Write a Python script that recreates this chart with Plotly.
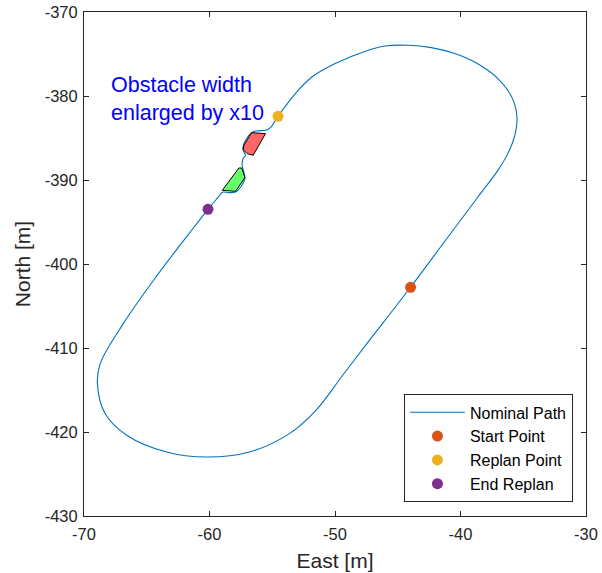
import plotly.graph_objects as go

# Nominal path (East, North)
path_east = [-43.98, -41.25, -38.61, -37.02, -36.23, -35.67, -35.49, -35.70, -36.23, -37.02,
             -37.82, -39.14, -40.46, -42.32, -44.17, -46.02, -47.34, -49.98, -51.84, -53.16,
             -54.54, -55.14, -55.54, -56.33, -56.73, -57.13, -57.34, -57.26, -57.13, -57.32,
             -57.40, -57.26, -57.18, -57.52, -57.92, -58.45, -58.98, -59.25, -60.12, -61.63,
             -64.27, -66.87, -68.71, -68.93, -68.32, -66.60, -63.43, -60.25, -56.81,
             -53.63, -51.52, -49.40, -47.60, -43.98]
path_north = [-402.77, -397.29, -392.02, -388.85, -386.86, -384.68, -382.69, -380.90, -379.32, -377.93,
              -376.94, -375.75, -374.95, -374.24, -373.96, -374.05, -374.56, -376.14, -377.74, -379.71,
              -382.42, -383.76, -384.08, -384.17, -384.48, -385.27, -386.14, -386.67, -387.06, -387.45,
              -388.25, -389.05, -389.83, -390.83, -391.43, -391.50, -391.46, -391.94, -393.49, -396.38,
              -401.55, -407.10, -411.86, -414.24, -417.81, -420.39, -422.38, -422.98, -422.38,
              -420.19, -417.42, -413.27, -409.75, -402.77]

# Obstacles (enlarged)
red_east = [-56.65, -55.54, -56.52, -57.00, -57.32, -57.26, -56.65]
red_north = [-384.36, -384.48, -387.06, -386.86, -386.38, -385.87, -384.36]
green_east = [-58.98, -57.92, -57.18, -57.44, -57.66, -58.98]
green_north = [-391.23, -391.35, -389.71, -388.57, -388.57, -391.23]

# Special points
start_pt = (-43.98, -402.77)
replan_pt = (-54.54, -382.42)
end_pt = (-60.12, -393.49)

x_ticks = [-70, -60, -50, -40, -30]
y_ticks = [-430, -420, -410, -400, -390, -380, -370]

FONT = "Liberation Sans, Arial, Helvetica, sans-serif"
AX = "#262626"

fig = go.Figure()
fig.add_trace(go.Scatter(x=path_east, y=path_north, mode="lines", name="Nominal Path",
                         line=dict(color="#0072BD", width=1.1, shape="spline", smoothing=1.0)))
fig.add_trace(go.Scatter(x=red_east, y=red_north, mode="lines", fill="toself",
                         fillcolor="rgba(255,0,0,0.6)", line=dict(color="black", width=1),
                         showlegend=False, hoverinfo="skip"))
fig.add_trace(go.Scatter(x=green_east, y=green_north, mode="lines", fill="toself",
                         fillcolor="rgba(0,255,0,0.6)", line=dict(color="black", width=1),
                         showlegend=False, hoverinfo="skip"))
fig.add_trace(go.Scatter(x=[start_pt[0]], y=[start_pt[1]], mode="markers", name="Start Point",
                         marker=dict(color="#D95319", size=11)))
fig.add_trace(go.Scatter(x=[replan_pt[0]], y=[replan_pt[1]], mode="markers", name="Replan Point",
                         marker=dict(color="#EDB120", size=11)))
fig.add_trace(go.Scatter(x=[end_pt[0]], y=[end_pt[1]], mode="markers", name="End Replan",
                         marker=dict(color="#7E2F8E", size=11)))

fig.add_annotation(x=-68.0, y=-380.3, xref="x", yref="y", xanchor="left", yanchor="middle",
                   align="left", showarrow=False,
                   text="Obstacle width<br>enlarged by x10",
                   font=dict(family=FONT, size=21.5, color="#0000FF"))

axis_common = dict(showgrid=False, zeroline=False, showline=True, linecolor=AX, linewidth=1,
                   mirror="ticks", ticks="inside", ticklen=5, tickcolor=AX, tickwidth=1,
                   tickfont=dict(family=FONT, size=16.5, color=AX))
fig.update_xaxes(range=[-70, -30], tickvals=x_ticks, ticktext=[str(v) for v in x_ticks],
                 ticklabelstandoff=3,
                 title=dict(text="East [m]", font=dict(family=FONT, size=21, color=AX), standoff=11),
                 **axis_common)
fig.update_yaxes(range=[-430, -370], tickvals=y_ticks, ticktext=[str(v) for v in y_ticks],
                 ticklabelstandoff=2,
                 title=dict(text="North [m]", font=dict(family=FONT, size=21, color=AX), standoff=8),
                 **axis_common)

fig.update_layout(
    width=602, height=573,
    margin=dict(l=84, r=16, t=12, b=57, autoexpand=False),
    paper_bgcolor="white", plot_bgcolor="white",
    showlegend=True,
    legend=dict(x=0.974, y=0.027, xanchor="right", yanchor="bottom",
                bgcolor="white", bordercolor=AX, borderwidth=1,
                font=dict(family=FONT, size=16, color="black"),
                itemwidth=55, tracegroupgap=0),
    font=dict(family=FONT),
)

fig.write_html("out.html", config={"displayModeBar": False},
               post_script="document.body.style.margin='0';document.body.style.padding='0';")
